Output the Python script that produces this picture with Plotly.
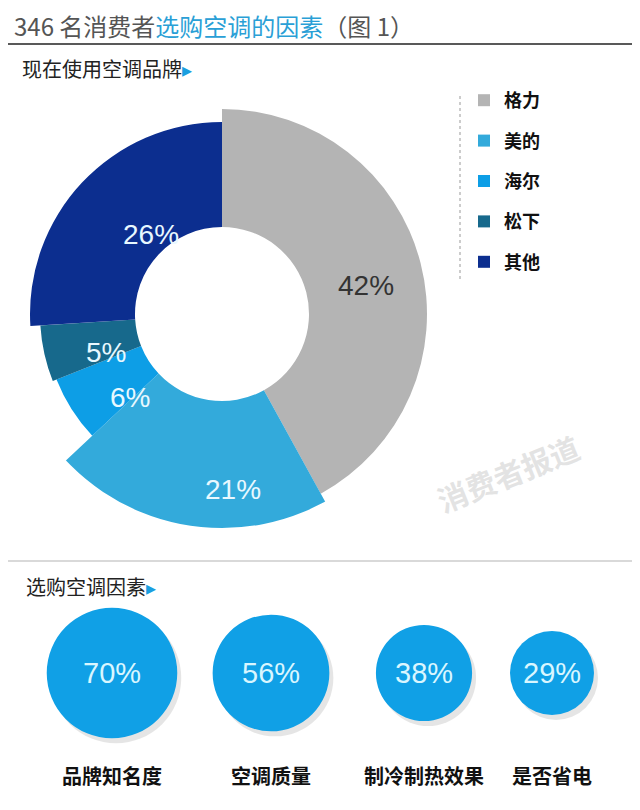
import math
import plotly.graph_objects as go

# ── Data ──────────────────────────────────────────────────────────────────────
brands = ["格力", "美的", "海尔", "松下", "其他"]
brand_share = [42, 21, 6, 5, 26]
brand_radius = [205, 220, 178, 182, 192]     # outer radius of each slice (px)
brand_colors = ["#b4b4b4", "#33aadb", "#0d9ee6", "#17698c", "#0c2e8f"]
label_colors = ["#333333", "#e8f8ff", "#e8f8ff", "#e8f8ff", "#e8f8ff"]

factors = ["品牌知名度", "空调质量", "制冷制热效果", "是否省电"]
factor_share = [70, 56, 38, 29]

# ── Layout constants ──────────────────────────────────────────────────────────
W, H = 640, 810
CX, CY, HOLE = 222, 312, 87
PCX, PCY, R_MAX = 214, 306, 214     # polar box (plotly draws it offset by ~8px)
FONT = "Noto Sans CJK SC"

fig = go.Figure()

# donut drawn as bars on a polar axis so each slice can have its own radius
start = 0
for name, share, r, col in zip(brands, brand_share, brand_radius, brand_colors):
    width = share * 3.6
    fig.add_trace(go.Barpolar(
        r=[r - HOLE], base=[HOLE], theta=[start + width / 2], width=[width],
        marker=dict(color=col, line=dict(width=0)), name="<b>" + name + "</b>",
        legendgroup=name, showlegend=True, hoverinfo="skip",
    ))
    start += width

fig.update_layout(polar=dict(
    domain=dict(x=[(PCX - R_MAX) / W, (PCX + R_MAX) / W],
                y=[(H - PCY - R_MAX) / H, (H - PCY + R_MAX) / H]),
    radialaxis=dict(range=[0, R_MAX], visible=False),
    angularaxis=dict(rotation=90, direction="clockwise", visible=False),
    bgcolor="rgba(0,0,0,0)", bargap=0,
))

# percentage labels inside slices
label_r = [140, 172, 145, 150, 150]
start = 0
for share, lr, lc in zip(brand_share, label_r, label_colors):
    mid = math.radians(start + share * 3.6 / 2)
    x = CX + lr * math.sin(mid)
    y = CY - lr * math.cos(mid)
    fig.add_annotation(x=x / W, y=1 - y / H, xref="paper", yref="paper",
                       text=f"{share}%", showarrow=False,
                       font=dict(size=28, color=lc, family="Liberation Sans"))
    start += share * 3.6

# bottom bubbles on a pixel-like cartesian axis
centers_x = [104, 263, 416, 544]
cy_b = 145
for v, cx, name in zip(factor_share, centers_x, factors):
    rx = 7.8 * math.sqrt(v)
    ry = rx
    fig.add_shape(type="circle", xref="x", yref="y",
                  x0=cx - rx + 4, x1=cx + rx + 4, y0=cy_b - ry - 5, y1=cy_b + ry - 5,
                  fillcolor="rgba(0,0,0,0.10)", line=dict(width=0), layer="below")
    fig.add_shape(type="circle", xref="x", yref="y",
                  x0=cx - rx, x1=cx + rx, y0=cy_b - ry, y1=cy_b + ry,
                  fillcolor="#10a0e6", line=dict(width=0), layer="below")
    fig.add_annotation(x=cx, y=cy_b, xref="x", yref="y", text=f"{v}%", showarrow=False,
                       font=dict(size=29, color="#d9f6ff", family="Liberation Sans"))
    fig.add_annotation(x=cx, y=43, xref="x", yref="y", text=f"<b>{name}</b>", showarrow=False,
                       font=dict(size=20, color="#111111", family=FONT))

fig.update_xaxes(range=[0, W], domain=[0, 1], visible=False, fixedrange=True)
fig.update_yaxes(range=[0, 250], domain=[0, 250 / H], visible=False, fixedrange=True)

# titles, separators, legend divider, watermark
def px_ann(x, y, text, size, color, anchor="left", **kw):
    fig.add_annotation(x=x / W, y=1 - y / H, xref="paper", yref="paper", text=text,
                       showarrow=False, xanchor=anchor, yanchor="middle",
                       font=dict(size=size, color=color, family=FONT), **kw)

px_ann(4, 17, "346 名消费者<span style='color:#2a9fd6'>选购空调的因素</span>（图 1）", 24, "#555555")
px_ann(12, 60, "现在使用空调品牌<span style='color:#1a9fe0'>▸</span>", 20, "#222222")
px_ann(16, 578, "选购空调因素<span style='color:#1a9fe0'>▸</span>", 20, "#222222")
px_ann(500, 465, "<b>消费者报道</b>", 30, "rgba(200,200,200,0.5)", anchor="center", textangle=-22)

fig.add_shape(type="line", xref="paper", yref="paper", x0=0, x1=1,
              y0=1 - 36 / H, y1=1 - 36 / H, line=dict(color="#222222", width=1.5))
fig.add_shape(type="line", xref="paper", yref="paper", x0=0, x1=1,
              y0=1 - 553 / H, y1=1 - 553 / H, line=dict(color="#cccccc", width=1.5))
fig.add_shape(type="line", xref="paper", yref="paper", x0=452 / W, x1=452 / W,
              y0=1 - 88 / H, y1=1 - 272 / H, line=dict(color="#999999", width=1, dash="dot"))

fig.update_layout(
    width=W, height=H, margin=dict(l=0, r=0, t=0, b=0),
    paper_bgcolor="white", plot_bgcolor="white",
    showlegend=True,
    legend=dict(x=456 / W, y=1 - 74 / H, xanchor="left", yanchor="top",
                font=dict(size=18, color="#111111", family=FONT + ", sans-serif"),
                tracegroupgap=14, itemsizing="constant", bgcolor="rgba(0,0,0,0)",
                traceorder="grouped"),
)

fig.write_html("out.html")
